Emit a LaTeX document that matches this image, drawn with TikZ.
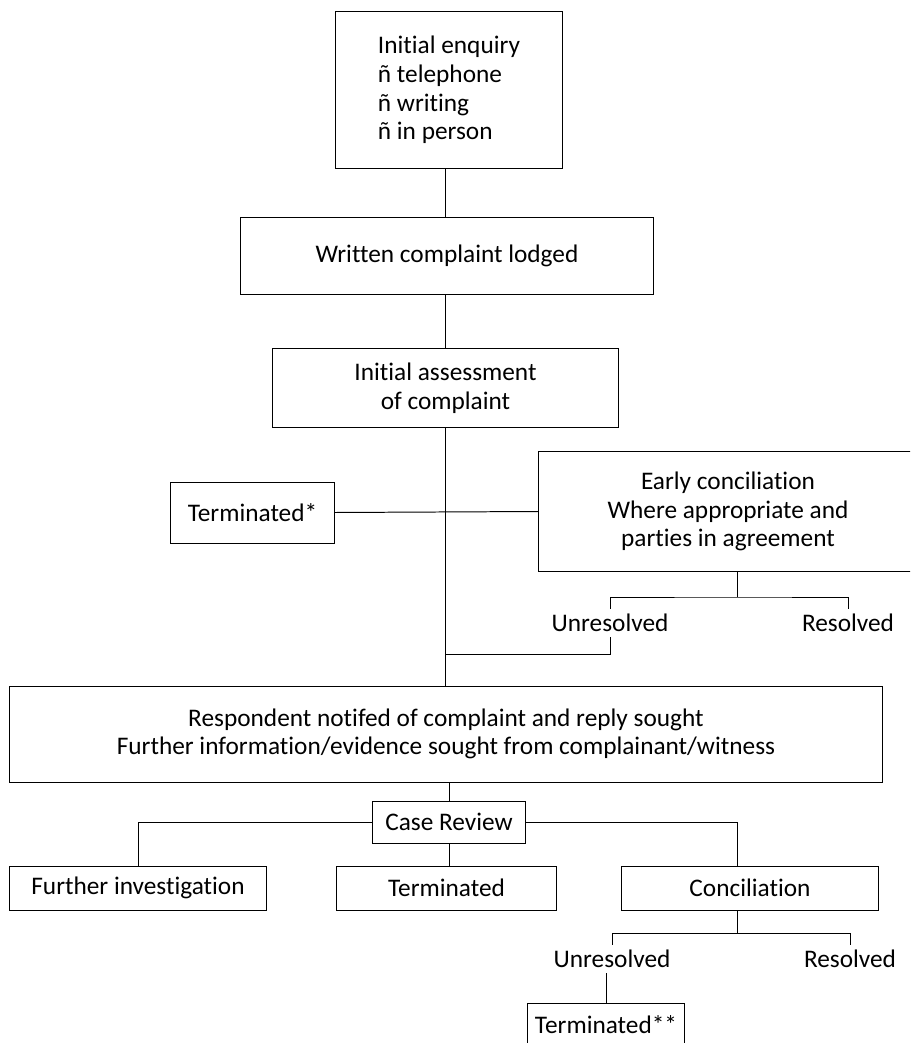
\documentclass[tikz,border=0pt]{standalone}
\usepackage{fontspec}
\setmainfont{Carlito}[Ligatures={NoCommon,NoContextual}, RawFeature={-liga;-dlig}]
\tikzset{
	box/.style={draw=black, inner sep=0pt, align=center},
	lbl/.style={inner xsep=0pt, inner ysep=0.125cm},
}
\begin{document}
\begin{tikzpicture}[x=0.025cm, y=-0.025cm, line width=0.7pt, font=\fontsize{18}{20.3}\selectfont]
	\useasboundingbox (0,0) rectangle (910,1043);
	\clip (0,0) rectangle (910,1043);
	\node[box, minimum width=5.65cm, minimum height=3.9cm, align=left] (enq) at (449,90) {Initial enquiry\\ñ telephone\\ñ writing\\ñ in person};
	\node[box, minimum width=10.3cm, minimum height=1.9cm] (written) at (447,256) {Written complaint lodged};
	\node[box, minimum width=8.625cm, minimum height=1.95cm] (assess) at (445.5,388) {Initial assessment\\of complaint};
	\node[box, minimum width=4.075cm, minimum height=1.525cm] (term1) at (252.5,512.5) {Terminated*};
	\node[box, minimum width=9.45cm, minimum height=2.975cm] (early) at (728,511.5) {Early conciliation\\Where appropriate and\\parties in agreement};
	\node[lbl] (unres1) at (610,623) {Unresolved};
	\node[lbl] (res1) at (848,623) {Resolved};
	\node[box, minimum width=21.8cm, minimum height=2.4cm] (resp) at (446,734) {Respondent notifed of complaint and reply sought\\Further information/evidence sought from complainant/witness};
	\node[box, minimum width=3.8cm, minimum height=1.05cm] (review) at (449,822) {Case Review};
	\node[box, minimum width=6.4cm, minimum height=1.1cm] (furth) at (138,888) {Further investigation};
	\node[box, minimum width=5.475cm, minimum height=1.1cm] (term2) at (446.5,888) {Terminated};
	\node[box, minimum width=6.4cm, minimum height=1.1cm] (conc) at (750,888) {Conciliation};
	\node[lbl] (unres2) at (612,959) {Unresolved};
	\node[lbl] (res2) at (850,959) {Resolved};
	\node[box, minimum width=3.9cm, minimum height=1.1cm] (term3) at (606,1025) {Terminated**};
	\coordinate (mx) at (445,0);
	\coordinate (ej) at (737,597);
	\coordinate (uj) at (445,654);
	\coordinate (cj) at (737,933);
	\draw (enq.south -| mx) -- (written.north -| mx);
	\draw (written.south -| mx) -- (assess.north -| mx);
	\draw (assess.south -| mx) -- (resp.north -| mx);
	\draw (term1.east) -- (early.west);
	\draw (early.south -| ej) -- (ej);
	\draw (unres1.north) |- (ej) -| (res1.north);
	\draw (unres1.south) |- (uj);
	\draw (resp.south -| review.north) -- (review.north);
	\draw (furth.north) |- (review.west);
	\draw (review.east) -| (conc.north -| cj);
	\draw (review.south) -- (term2.north -| review.south);
	\draw (conc.south -| cj) -- (cj);
	\draw (unres2.north) |- (cj) -| (res2.north);
	\draw (unres2.south -| term3.north) -- (term3.north);
\end{tikzpicture}
\end{document}
